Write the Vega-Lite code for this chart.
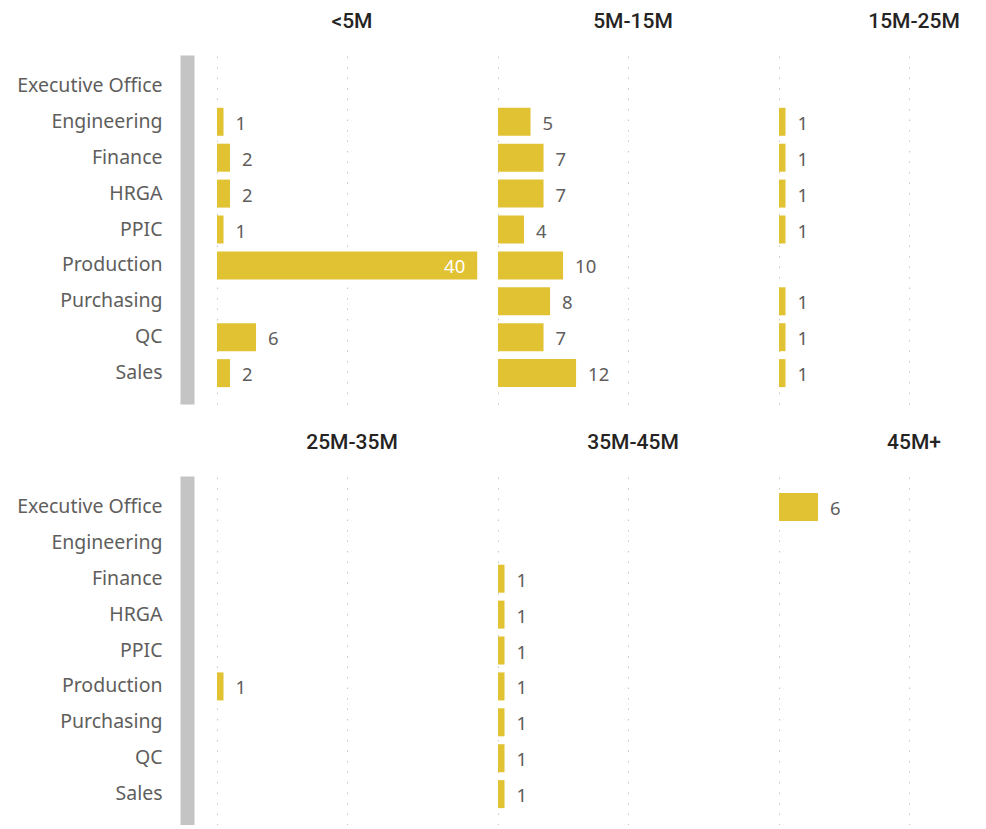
{
  "$schema": "https://vega.github.io/schema/vega-lite/v6.json",
  "padding": {"left": 16, "top": 11, "right": 0, "bottom": 0},
  "background": "white",
  "config": {
    "view": {"stroke": null},
    "concat": {"spacing": 11},
    "title": {"font": "Roboto", "fontSize": 21, "fontWeight": 500, "color": "#252423", "baseline": "alphabetic", "offset": 23, "anchor": "middle"},
    "text": {"font": "Noto Sans", "fontSize": 18.5, "color": "#605E5C", "baseline": "middle"},
    "axisX": {"domain": false, "ticks": false, "labels": false, "grid": true, "gridDash": [1.5, 9], "gridColor": "#C8C6C4", "gridWidth": 1, "title": null}
  },
  "datasets": {
    "d": [
      {"band": "<5M", "dept": "Engineering", "count": 1},
      {"band": "<5M", "dept": "Finance", "count": 2},
      {"band": "<5M", "dept": "HRGA", "count": 2},
      {"band": "<5M", "dept": "PPIC", "count": 1},
      {"band": "<5M", "dept": "Production", "count": 40},
      {"band": "<5M", "dept": "QC", "count": 6},
      {"band": "<5M", "dept": "Sales", "count": 2},
      {"band": "5M-15M", "dept": "Engineering", "count": 5},
      {"band": "5M-15M", "dept": "Finance", "count": 7},
      {"band": "5M-15M", "dept": "HRGA", "count": 7},
      {"band": "5M-15M", "dept": "PPIC", "count": 4},
      {"band": "5M-15M", "dept": "Production", "count": 10},
      {"band": "5M-15M", "dept": "Purchasing", "count": 8},
      {"band": "5M-15M", "dept": "QC", "count": 7},
      {"band": "5M-15M", "dept": "Sales", "count": 12},
      {"band": "15M-25M", "dept": "Engineering", "count": 1},
      {"band": "15M-25M", "dept": "Finance", "count": 1},
      {"band": "15M-25M", "dept": "HRGA", "count": 1},
      {"band": "15M-25M", "dept": "PPIC", "count": 1},
      {"band": "15M-25M", "dept": "Purchasing", "count": 1},
      {"band": "15M-25M", "dept": "QC", "count": 1},
      {"band": "15M-25M", "dept": "Sales", "count": 1},
      {"band": "25M-35M", "dept": "Production", "count": 1},
      {"band": "35M-45M", "dept": "Finance", "count": 1},
      {"band": "35M-45M", "dept": "HRGA", "count": 1},
      {"band": "35M-45M", "dept": "PPIC", "count": 1},
      {"band": "35M-45M", "dept": "Production", "count": 1},
      {"band": "35M-45M", "dept": "Purchasing", "count": 1},
      {"band": "35M-45M", "dept": "QC", "count": 1},
      {"band": "35M-45M", "dept": "Sales", "count": 1},
      {"band": "45M+", "dept": "Executive Office", "count": 6}
    ]
  },
  "data": {"name": "d"},
  "vconcat": [
    {
      "hconcat": [
        {
          "width": 270, "height": 349,
          "title": {"text": "<5M"},
          "transform": [{"filter": "datum.band === '<5M'"}],
          "encoding": {
            "y": {"field": "dept", "type": "nominal", "sort": null,
              "scale": {"domain": ["Executive Office", "Engineering", "Finance", "HRGA", "PPIC", "Production", "Purchasing", "QC", "Sales"], "paddingInner": 0.22, "paddingOuter": 0.47},
              "axis": {"title": null, "offset": 30, "domain": true, "domainColor": "#C4C4C4", "domainWidth": 14, "ticks": false, "labelPadding": 25, "labelFont": "Noto Sans", "labelFontSize": 19.5, "labelColor": "#605E5C", "labelLimit": 300, "grid": false}},
            "x": {"field": "count", "type": "quantitative", "scale": {"domain": [0, 41.5], "nice": false, "zero": true}, "axis": {"values": [0, 20]}}
          },
          "layer": [
            {"mark": {"type": "bar", "color": "#E1C233"}},
            {"transform": [{"filter": "datum.count < 30"}], "mark": {"type": "text", "align": "left", "dx": 12, "dy": 2}, "encoding": {"text": {"field": "count", "type": "quantitative"}}},
            {"transform": [{"filter": "datum.count >= 30"}], "mark": {"type": "text", "align": "right", "dx": -12, "dy": 2, "color": "white"}, "encoding": {"text": {"field": "count", "type": "quantitative"}}}
          ]
        },
        {
          "width": 270, "height": 349,
          "title": {"text": "5M-15M"},
          "transform": [{"filter": "datum.band === '5M-15M'"}],
          "encoding": {
            "y": {"field": "dept", "type": "nominal", "sort": null,
              "scale": {"domain": ["Executive Office", "Engineering", "Finance", "HRGA", "PPIC", "Production", "Purchasing", "QC", "Sales"], "paddingInner": 0.22, "paddingOuter": 0.47},
              "axis": null},
            "x": {"field": "count", "type": "quantitative", "scale": {"domain": [0, 41.5], "nice": false, "zero": true}, "axis": {"values": [0, 20]}}
          },
          "layer": [
            {"mark": {"type": "bar", "color": "#E1C233"}},
            {"mark": {"type": "text", "align": "left", "dx": 12, "dy": 2}, "encoding": {"text": {"field": "count", "type": "quantitative"}}}
          ]
        },
        {
          "width": 208, "height": 349,
          "title": {"text": "15M-25M", "dx": 31},
          "transform": [{"filter": "datum.band === '15M-25M'"}],
          "encoding": {
            "y": {"field": "dept", "type": "nominal", "sort": null,
              "scale": {"domain": ["Executive Office", "Engineering", "Finance", "HRGA", "PPIC", "Production", "Purchasing", "QC", "Sales"], "paddingInner": 0.22, "paddingOuter": 0.47},
              "axis": null},
            "x": {"field": "count", "type": "quantitative", "scale": {"domain": [0, 32], "nice": false, "zero": true}, "axis": {"values": [0, 20]}}
          },
          "layer": [
            {"mark": {"type": "bar", "color": "#E1C233"}},
            {"mark": {"type": "text", "align": "left", "dx": 12, "dy": 2}, "encoding": {"text": {"field": "count", "type": "quantitative"}}}
          ]
        }
      ]
    },
    {
      "hconcat": [
        {
          "width": 270, "height": 349,
          "title": {"text": "25M-35M"},
          "transform": [{"filter": "datum.band === '25M-35M'"}],
          "encoding": {
            "y": {"field": "dept", "type": "nominal", "sort": null,
              "scale": {"domain": ["Executive Office", "Engineering", "Finance", "HRGA", "PPIC", "Production", "Purchasing", "QC", "Sales"], "paddingInner": 0.22, "paddingOuter": 0.47},
              "axis": {"title": null, "offset": 30, "domain": true, "domainColor": "#C4C4C4", "domainWidth": 14, "ticks": false, "labelPadding": 25, "labelFont": "Noto Sans", "labelFontSize": 19.5, "labelColor": "#605E5C", "labelLimit": 300, "grid": false}},
            "x": {"field": "count", "type": "quantitative", "scale": {"domain": [0, 41.5], "nice": false, "zero": true}, "axis": {"values": [0, 20]}}
          },
          "layer": [
            {"mark": {"type": "bar", "color": "#E1C233"}},
            {"mark": {"type": "text", "align": "left", "dx": 12, "dy": 2}, "encoding": {"text": {"field": "count", "type": "quantitative"}}}
          ]
        },
        {
          "width": 270, "height": 349,
          "title": {"text": "35M-45M"},
          "transform": [{"filter": "datum.band === '35M-45M'"}],
          "encoding": {
            "y": {"field": "dept", "type": "nominal", "sort": null,
              "scale": {"domain": ["Executive Office", "Engineering", "Finance", "HRGA", "PPIC", "Production", "Purchasing", "QC", "Sales"], "paddingInner": 0.22, "paddingOuter": 0.47},
              "axis": null},
            "x": {"field": "count", "type": "quantitative", "scale": {"domain": [0, 41.5], "nice": false, "zero": true}, "axis": {"values": [0, 20]}}
          },
          "layer": [
            {"mark": {"type": "bar", "color": "#E1C233"}},
            {"mark": {"type": "text", "align": "left", "dx": 12, "dy": 2}, "encoding": {"text": {"field": "count", "type": "quantitative"}}}
          ]
        },
        {
          "width": 208, "height": 349,
          "title": {"text": "45M+", "dx": 31},
          "transform": [{"filter": "datum.band === '45M+'"}],
          "encoding": {
            "y": {"field": "dept", "type": "nominal", "sort": null,
              "scale": {"domain": ["Executive Office", "Engineering", "Finance", "HRGA", "PPIC", "Production", "Purchasing", "QC", "Sales"], "paddingInner": 0.22, "paddingOuter": 0.47},
              "axis": null},
            "x": {"field": "count", "type": "quantitative", "scale": {"domain": [0, 32], "nice": false, "zero": true}, "axis": {"values": [0, 20]}}
          },
          "layer": [
            {"mark": {"type": "bar", "color": "#E1C233"}},
            {"mark": {"type": "text", "align": "left", "dx": 12, "dy": 2}, "encoding": {"text": {"field": "count", "type": "quantitative"}}}
          ]
        }
      ]
    }
  ],
  "spacing": 28
}
